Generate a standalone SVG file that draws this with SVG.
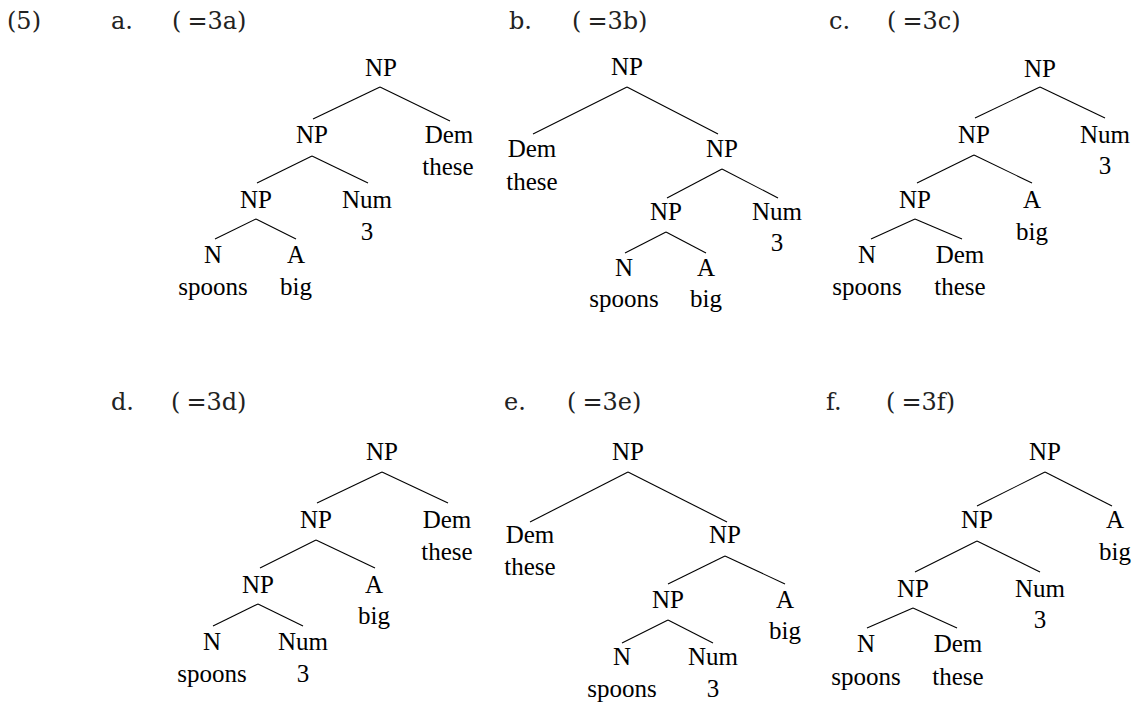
<svg xmlns="http://www.w3.org/2000/svg" width="1137" height="705" viewBox="0 0 1137 705">
<style>
.t{font-family:'Liberation Serif',serif;font-size:25px;text-anchor:middle;fill:#000}
.h{font-family:'DejaVu Serif',serif;font-size:24px;fill:#222}
.e line{stroke:#000;stroke-width:1.1}
</style>
<rect width="1137" height="705" fill="#fff"/>
<g id="labels" font-family="DejaVu Serif, serif">
<text class="h" x="7" y="29">(5)</text>
<text class="h" x="111" y="29">a.</text><text class="h" x="172" y="29">(<tspan dx="6">=</tspan>3a)</text>
<text class="h" x="509" y="29">b.</text><text class="h" x="572" y="29">(<tspan dx="6">=</tspan>3b)</text>
<text class="h" x="829" y="29">c.</text><text class="h" x="887" y="29">(<tspan dx="6">=</tspan>3c)</text>
<text class="h" x="111" y="410">d.</text><text class="h" x="171" y="410">(<tspan dx="6">=</tspan>3d)</text>
<text class="h" x="504" y="410">e.</text><text class="h" x="567" y="410">(<tspan dx="6">=</tspan>3e)</text>
<text class="h" x="826" y="410">f.</text><text class="h" x="886" y="410">(<tspan dx="6">=</tspan>3f)</text>
</g>
<g id="connectors" class="e">
<line x1="380" y1="87" x2="313" y2="119"/><line x1="380" y1="87" x2="450" y2="121"/>
<line x1="312" y1="156" x2="257" y2="183"/><line x1="312" y1="156" x2="368" y2="183"/>
<line x1="256" y1="219" x2="215" y2="239"/><line x1="256" y1="219" x2="296" y2="239"/>

<line x1="627" y1="87" x2="533" y2="134"/><line x1="627" y1="87" x2="718" y2="134"/>
<line x1="722" y1="169" x2="667" y2="198"/><line x1="722" y1="169" x2="778" y2="198"/>
<line x1="666" y1="232" x2="625" y2="253"/><line x1="666" y1="232" x2="706" y2="253"/>

<line x1="1040" y1="87" x2="975" y2="118"/><line x1="1040" y1="87" x2="1105" y2="118"/>
<line x1="974" y1="155" x2="917" y2="183"/><line x1="974" y1="155" x2="1032" y2="183"/>
<line x1="915" y1="219" x2="871" y2="239"/><line x1="915" y1="219" x2="962" y2="239"/>

<line x1="382" y1="472" x2="317" y2="503"/><line x1="382" y1="472" x2="448" y2="503"/>
<line x1="316" y1="540" x2="260" y2="568"/><line x1="316" y1="540" x2="375" y2="568"/>
<line x1="258" y1="604" x2="213" y2="626"/><line x1="258" y1="604" x2="303" y2="626"/>

<line x1="628" y1="472" x2="530" y2="522"/><line x1="628" y1="472" x2="727" y2="522"/>
<line x1="725" y1="556" x2="668" y2="584"/><line x1="725" y1="556" x2="785" y2="584"/>
<line x1="668" y1="620" x2="622" y2="643"/><line x1="668" y1="620" x2="713" y2="643"/>

<line x1="1045" y1="472" x2="977" y2="506"/><line x1="1045" y1="472" x2="1112" y2="506"/>
<line x1="977" y1="541" x2="915" y2="572"/><line x1="977" y1="541" x2="1040" y2="572"/>
<line x1="913" y1="608" x2="867" y2="628"/><line x1="913" y1="608" x2="957" y2="628"/>
</g>
<g id="trees" font-family="Liberation Serif, serif">
<g id="tree-a">
<g id="a-np0"><text class="t" x="381" y="76">NP</text></g>
<g id="a-np1"><text class="t" x="312" y="143">NP</text></g>
<g id="a-dem"><text class="t" x="449" y="143">Dem</text><text class="t" x="448" y="175">these</text></g>
<g id="a-np2"><text class="t" x="256" y="208">NP</text></g>
<g id="a-num"><text class="t" x="367" y="208">Num</text><text class="t" x="367" y="240">3</text></g>
<g id="a-n"><text class="t" x="213" y="263">N</text><text class="t" x="213" y="295">spoons</text></g>
<g id="a-a"><text class="t" x="296" y="263">A</text><text class="t" x="296" y="295">big</text></g>
</g>
<g id="tree-b">
<g id="b-np0"><text class="t" x="627" y="75">NP</text></g>
<g id="b-dem"><text class="t" x="532" y="157">Dem</text><text class="t" x="532" y="190">these</text></g>
<g id="b-np1"><text class="t" x="722" y="157">NP</text></g>
<g id="b-np2"><text class="t" x="666" y="220">NP</text></g>
<g id="b-num"><text class="t" x="777" y="220">Num</text><text class="t" x="777" y="251">3</text></g>
<g id="b-n"><text class="t" x="624" y="276">N</text><text class="t" x="624" y="307">spoons</text></g>
<g id="b-a"><text class="t" x="706" y="276">A</text><text class="t" x="706" y="307">big</text></g>
</g>
<g id="tree-c">
<g id="c-np0"><text class="t" x="1040" y="77">NP</text></g>
<g id="c-np1"><text class="t" x="974" y="143">NP</text></g>
<g id="c-num"><text class="t" x="1105" y="143">Num</text><text class="t" x="1105" y="174">3</text></g>
<g id="c-np2"><text class="t" x="915" y="208">NP</text></g>
<g id="c-a"><text class="t" x="1032" y="208">A</text><text class="t" x="1032" y="240">big</text></g>
<g id="c-n"><text class="t" x="867" y="263">N</text><text class="t" x="867" y="295">spoons</text></g>
<g id="c-dem"><text class="t" x="960" y="263">Dem</text><text class="t" x="960" y="295">these</text></g>
</g>
<g id="tree-d">
<g id="d-np0"><text class="t" x="382" y="460">NP</text></g>
<g id="d-np1"><text class="t" x="316" y="528">NP</text></g>
<g id="d-dem"><text class="t" x="447" y="528">Dem</text><text class="t" x="447" y="560">these</text></g>
<g id="d-np2"><text class="t" x="258" y="593">NP</text></g>
<g id="d-a"><text class="t" x="374" y="593">A</text><text class="t" x="374" y="624">big</text></g>
<g id="d-n"><text class="t" x="212" y="650">N</text><text class="t" x="212" y="682">spoons</text></g>
<g id="d-num"><text class="t" x="303" y="650">Num</text><text class="t" x="303" y="682">3</text></g>
</g>
<g id="tree-e">
<g id="e-np0"><text class="t" x="628" y="460">NP</text></g>
<g id="e-dem"><text class="t" x="530" y="543">Dem</text><text class="t" x="530" y="575">these</text></g>
<g id="e-np1"><text class="t" x="725" y="543">NP</text></g>
<g id="e-np2"><text class="t" x="668" y="608">NP</text></g>
<g id="e-a"><text class="t" x="785" y="608">A</text><text class="t" x="785" y="639">big</text></g>
<g id="e-n"><text class="t" x="622" y="665">N</text><text class="t" x="622" y="697">spoons</text></g>
<g id="e-num"><text class="t" x="713" y="665">Num</text><text class="t" x="713" y="697">3</text></g>
</g>
<g id="tree-f">
<g id="f-np0"><text class="t" x="1045" y="460">NP</text></g>
<g id="f-np1"><text class="t" x="977" y="528">NP</text></g>
<g id="f-a"><text class="t" x="1115" y="528">A</text><text class="t" x="1115" y="560">big</text></g>
<g id="f-np2"><text class="t" x="913" y="597">NP</text></g>
<g id="f-num"><text class="t" x="1040" y="597">Num</text><text class="t" x="1040" y="628">3</text></g>
<g id="f-n"><text class="t" x="866" y="652">N</text><text class="t" x="866" y="685">spoons</text></g>
<g id="f-dem"><text class="t" x="958" y="652">Dem</text><text class="t" x="958" y="685">these</text></g>
</g>
</g>
</svg>
